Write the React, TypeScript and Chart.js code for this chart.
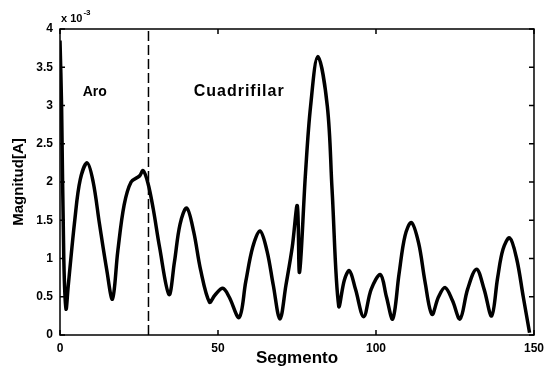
import React, { useEffect, useRef } from "react";
import { Chart, registerables } from "chart.js";

Chart.register(...registerables);

// Segment index (x) and current magnitude (y, in units of 1e-3 A)
const segX = [
  0, 0.5, 1.2, 1.9, 2.6, 4.7, 6.4, 8.6, 10.5, 12.5, 14.8, 16.6, 18.3, 20.3, 22.5,
  25.2, 26.3, 27.8, 29.5, 31.5, 34.5, 36.2, 38, 40.1, 42.3, 44.5, 47.3, 49, 51.5,
  53.5, 56.7, 58.8, 61, 63.3, 65.5, 67.5, 69.6, 71.5, 73.5, 75.1, 75.8, 77.7,
  79.3, 81.6, 84.6, 86.1, 88.2, 90, 91.6, 93.5, 96.1, 98.5, 101.4, 103.3, 105.3,
  107.3, 109.2, 111.2, 113.5, 115.5, 117.7, 119.8, 121.9, 124.2, 126.6, 129,
  131.8, 134.2, 136.6, 138.5, 140.2, 142.3, 144.5, 146.6, 148.6,
];
const magnitude = [
  3.85, 3.0, 1.0, 0.34, 0.64, 1.51, 2.03, 2.25, 2.0, 1.45, 0.85, 0.47, 1.1, 1.7,
  2.0, 2.08, 2.15, 1.99, 1.65, 1.15, 0.53, 0.95, 1.45, 1.66, 1.35, 0.85, 0.43,
  0.52, 0.61, 0.5, 0.23, 0.7, 1.15, 1.36, 1.1, 0.65, 0.21, 0.65, 1.15, 1.69,
  0.82, 2.12, 2.99, 3.64, 2.99, 1.9, 0.38, 0.72, 0.84, 0.6, 0.24, 0.6, 0.79, 0.5,
  0.21, 0.8, 1.3, 1.47, 1.2, 0.7, 0.27, 0.5, 0.62, 0.45, 0.21, 0.6, 0.86, 0.6,
  0.25, 0.75, 1.12, 1.27, 1.0, 0.5, 0.03,
];

// Dashed divider between "Aro" and "Cuadrifilar"
const dividerX = [28, 28];
const dividerY = [0, 4];

const xTicks = [0, 50, 100, 150];
const yTicks = [0, 0.5, 1, 1.5, 2, 2.5, 3, 3.5, 4];

const regionLabels = ["Aro", "Cuadrifilar"];
const regionLabelX = [7.2, 42.3];
const regionLabelY = [3.17, 3.18];

const decorPlugin = {
  id: "decor",
  afterDatasetsDraw(chart: any) {
    const { ctx, chartArea } = chart;
    const xs = chart.scales.x;
    const ys = chart.scales.y;
    const { left, right, top, bottom } = chartArea;
    ctx.save();
    ctx.strokeStyle = "#000";
    ctx.lineWidth = 1.5;
    ctx.strokeRect(left, top, right - left, bottom - top);
    const tl = 5;
    ctx.beginPath();
    xTicks.forEach((v) => {
      const px = xs.getPixelForValue(v);
      ctx.moveTo(px, bottom);
      ctx.lineTo(px, bottom - tl);
      ctx.moveTo(px, top);
      ctx.lineTo(px, top + tl);
    });
    yTicks.forEach((v) => {
      const py = ys.getPixelForValue(v);
      ctx.moveTo(left, py);
      ctx.lineTo(left + tl, py);
      ctx.moveTo(right, py);
      ctx.lineTo(right - tl, py);
    });
    ctx.stroke();

    // exponent label
    ctx.fillStyle = "#000";
    ctx.textBaseline = "alphabetic";
    ctx.textAlign = "left";
    ctx.font = "bold 11px 'Liberation Sans', Arial, sans-serif";
    ctx.fillText("x 10", left + 1, top - 7);
    const w = ctx.measureText("x 10").width;
    ctx.font = "bold 8px 'Liberation Sans', Arial, sans-serif";
    ctx.fillText("-3", left + 1 + w + 1, top - 14);

    // region labels
    ctx.textBaseline = "middle";
    regionLabels.forEach((t, i) => {
      ctx.font =
        i === 0
          ? "bold 14px 'Liberation Sans', Arial, sans-serif"
          : "bold 16px 'Liberation Sans', Arial, sans-serif";
      (ctx as any).letterSpacing = i === 0 ? "0px" : "1px";
      ctx.fillText(
        t,
        xs.getPixelForValue(regionLabelX[i]),
        ys.getPixelForValue(regionLabelY[i])
      );
    });
    (ctx as any).letterSpacing = "0px";
    ctx.restore();
  },
};

export default function App() {
  const ref = useRef<HTMLCanvasElement | null>(null);
  useEffect(() => {
    if (!ref.current) return;
    const font = "'Liberation Sans', Arial, sans-serif";
    const chart = new Chart(ref.current, {
      type: "line",
      data: {
        datasets: [
          {
            data: segX.map((x, i) => ({ x, y: magnitude[i] })),
            borderColor: "#000",
            borderWidth: 3.5,
            pointRadius: 0,
            tension: 0.35,
            fill: false,
          },
          {
            data: dividerX.map((x, i) => ({ x, y: dividerY[i] })),
            borderColor: "#000",
            borderWidth: 1.5,
            borderDash: [10, 4],
            pointRadius: 0,
            fill: false,
          },
        ],
      },
      options: {
        responsive: false,
        animation: false,
        layout: { padding: { left: 0, right: 14, top: 29, bottom: 0 } },
        plugins: {
          legend: { display: false },
          tooltip: { enabled: false },
        },
        scales: {
          x: {
            type: "linear",
            min: 0,
            max: 150,
            afterBuildTicks: (s: any) => {
              s.ticks = xTicks.map((v) => ({ value: v }));
            },
            afterFit: (s: any) => {
              s.height = 38;
            },
            grid: { display: false, drawTicks: false },
            border: { display: false },
            ticks: {
              color: "#000",
              padding: 6,
              font: { family: font, size: 12, weight: "bold" },
              maxRotation: 0,
            },
            title: {
              display: true,
              text: "Segmento",
              color: "#000",
              font: { family: font, size: 17, weight: "bold" },
              padding: { top: 0, bottom: 4 },
            },
          },
          y: {
            type: "linear",
            min: 0,
            max: 4,
            afterBuildTicks: (s: any) => {
              s.ticks = yTicks.map((v) => ({ value: v }));
            },
            afterFit: (s: any) => {
              s.width = 60;
            },
            grid: { display: false, drawTicks: false },
            border: { display: false },
            ticks: {
              color: "#000",
              padding: 7,
              font: { family: font, size: 12, weight: "bold" },
              callback: (v: any) => String(v),
            },
            title: {
              display: true,
              text: "Magnitud[A]",
              color: "#000",
              font: { family: font, size: 15, weight: "bold" },
              padding: { top: 10, bottom: 0 },
            },
          },
        },
      },
      plugins: [decorPlugin],
    } as any);
    return () => chart.destroy();
  }, []);
  return (
    <div style={{ position: "absolute", left: 0, top: 0, width: 550, height: 373, background: "#fff" }}>
      <canvas ref={ref} width={550} height={373} style={{ display: "block" }} />
    </div>
  );
}
